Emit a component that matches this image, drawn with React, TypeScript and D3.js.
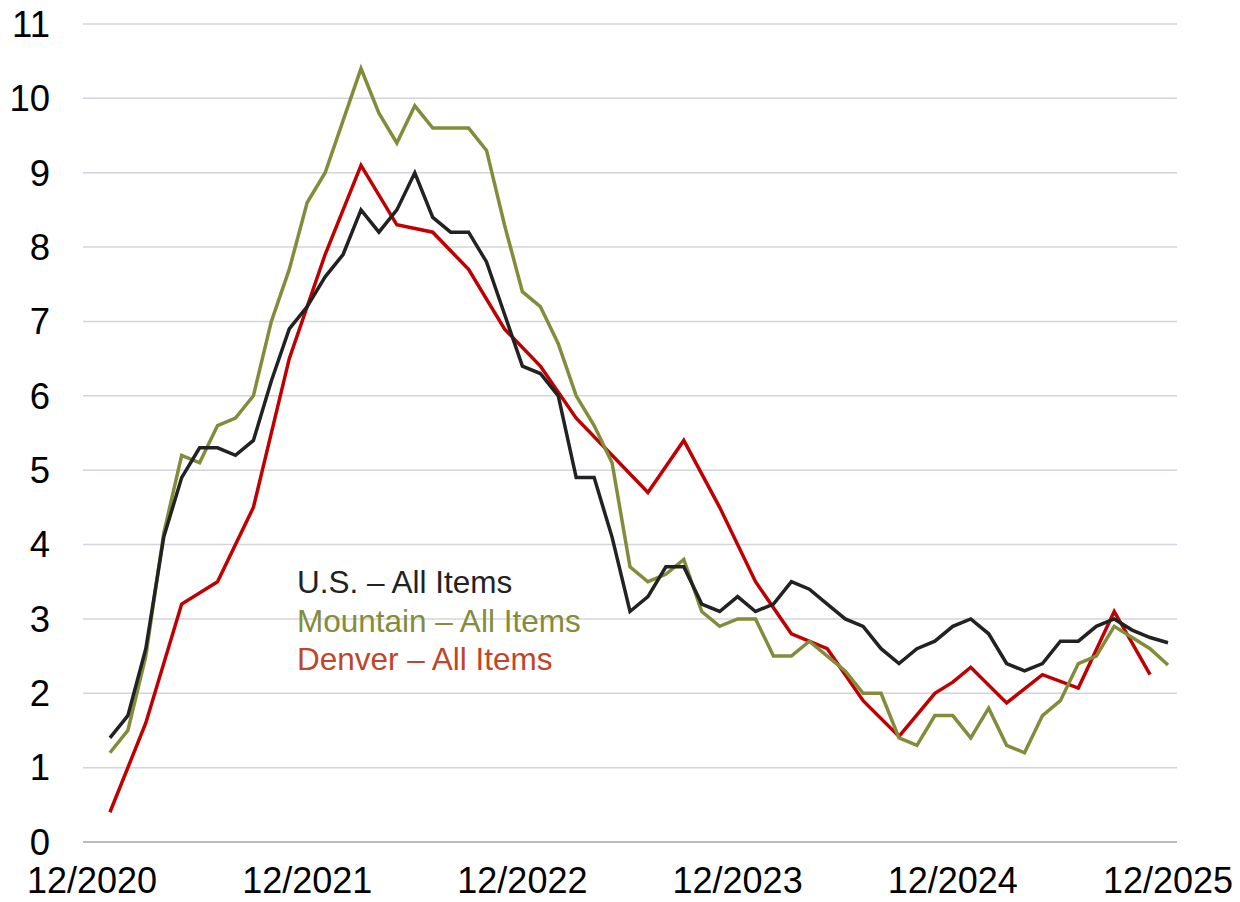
import React, { useEffect, useRef } from 'react';
import * as d3 from 'd3';

// month index: 0 = 12/2020, 60 = 12/2025
const xTickMonths = [0, 12, 24, 36, 48, 60];
const xTickLabels = ['12/2020', '12/2021', '12/2022', '12/2023', '12/2024', '12/2025'];
const yTicks = [0, 1, 2, 3, 4, 5, 6, 7, 8, 9, 10, 11];

// values for months 1..60 (1/2021 .. 12/2025)
const usValues = [
  1.4, 1.7, 2.6, 4.1, 4.9, 5.3, 5.3, 5.2, 5.4, 6.2, 6.9, 7.2,
  7.6, 7.9, 8.5, 8.2, 8.5, 9.0, 8.4, 8.2, 8.2, 7.8, 7.1, 6.4,
  6.3, 6.0, 4.9, 4.9, 4.1, 3.1, 3.3, 3.7, 3.7, 3.2, 3.1, 3.3,
  3.1, 3.2, 3.5, 3.4, 3.2, 3.0, 2.9, 2.6, 2.4, 2.6, 2.7, 2.9,
  3.0, 2.8, 2.4, 2.3, 2.4, 2.7, 2.7, 2.9, 3.0, 2.85, 2.75, 2.68,
];

const mountainValues = [
  1.2, 1.5, 2.5, 4.15, 5.2, 5.1, 5.6, 5.7, 6.0, 7.0, 7.7, 8.6,
  9.0, 9.7, 10.4, 9.8, 9.4, 9.9, 9.6, 9.6, 9.6, 9.3, 8.3, 7.4,
  7.2, 6.7, 6.0, 5.6, 5.1, 3.7, 3.5, 3.6, 3.8, 3.1, 2.9, 3.0,
  3.0, 2.5, 2.5, 2.7, 2.5, 2.3, 2.0, 2.0, 1.4, 1.3, 1.7, 1.7,
  1.4, 1.8, 1.3, 1.2, 1.7, 1.9, 2.4, 2.5, 2.9, 2.75, 2.6, 2.38,
];

// Denver is published every other month
const denverValues = [
  0.4, null, 1.6, null, 3.2, null, 3.5, null, 4.5, null, 6.5, null,
  7.9, null, 9.1, null, 8.3, null, 8.2, null, 7.7, null, 6.9, null,
  6.4, null, 5.7, null, 5.2, null, 4.7, null, 5.4, null, 4.5, null,
  3.5, null, 2.8, null, 2.6, null, 1.9, null, 1.42, null, 2.0, 2.15,
  2.35, null, 1.87, null, 2.25, null, 2.07, null, 3.1, null, 2.25, null,
];

const seriesNames = ['U.S. – All Items', 'Mountain – All Items', 'Denver – All Items'];
const lineColors = ['#222222', '#838c3a', '#c00000'];
const labelColors = ['#222222', '#838c3a', '#c0452a'];

const width = 1240;
const height = 902;

const App = () => {
  const svgRef = useRef<SVGSVGElement | null>(null);

  useEffect(() => {
    const svg = d3.select(svgRef.current);
    svg.selectAll('*').remove();

    const x = d3.scaleLinear().domain([0, 60]).range([92, 1168]);
    const y = d3.scaleLinear().domain([0, 11]).range([842, 24]);
    const gridLeft = 83;
    const gridRight = 1177;
    const font = 'Arial, "Liberation Sans", sans-serif';

    // gridlines
    svg.append('g')
      .selectAll('line')
      .data(yTicks)
      .enter().append('line')
      .attr('x1', gridLeft)
      .attr('x2', gridRight)
      .attr('y1', d => y(d))
      .attr('y2', d => y(d))
      .attr('stroke', d => (d === 0 ? '#a6a6a6' : '#d4d4dc'))
      .attr('stroke-width', 1.5);

    // y labels
    svg.append('g')
      .selectAll('text')
      .data(yTicks)
      .enter().append('text')
      .attr('x', 50)
      .attr('y', d => y(d))
      .attr('dy', '0.35em')
      .attr('text-anchor', 'end')
      .attr('font-family', font)
      .attr('font-size', 36.5)
      .attr('fill', '#000')
      .text(d => d);

    // x labels
    svg.append('g')
      .selectAll('text')
      .data(xTickMonths)
      .enter().append('text')
      .attr('x', d => x(d))
      .attr('y', 893)
      .attr('text-anchor', 'middle')
      .attr('font-family', font)
      .attr('font-size', 36)
      .attr('fill', '#000')
      .text((d, i) => xTickLabels[i]);

    const allSeries = [usValues, mountainValues, denverValues];
    const line = d3.line<{ m: number; v: number }>()
      .x(d => x(d.m))
      .y(d => y(d.v));

    // draw Denver first, then Mountain, then U.S.
    [2, 1, 0].forEach(i => {
      const pts = allSeries[i]
        .map((v, k) => ({ m: k + 1, v: v as number }))
        .filter(p => p.v !== null && p.v !== undefined);
      svg.append('path')
        .datum(pts)
        .attr('d', line)
        .attr('fill', 'none')
        .attr('stroke', lineColors[i])
        .attr('stroke-width', 3.5)
        .attr('stroke-linejoin', 'miter');
    });

    // legend texts
    svg.append('g')
      .selectAll('text')
      .data(seriesNames)
      .enter().append('text')
      .attr('x', 297)
      .attr('y', (d, i) => 593 + i * 38.5)
      .attr('font-family', font)
      .attr('font-size', 31.5)
      .attr('fill', (d, i) => labelColors[i])
      .text(d => d);
  }, []);

  return (
    <svg
      ref={svgRef}
      width={width}
      height={height}
      style={{ position: 'absolute', left: 0, top: 0, background: '#fff' }}
    />
  );
};

export default App;
